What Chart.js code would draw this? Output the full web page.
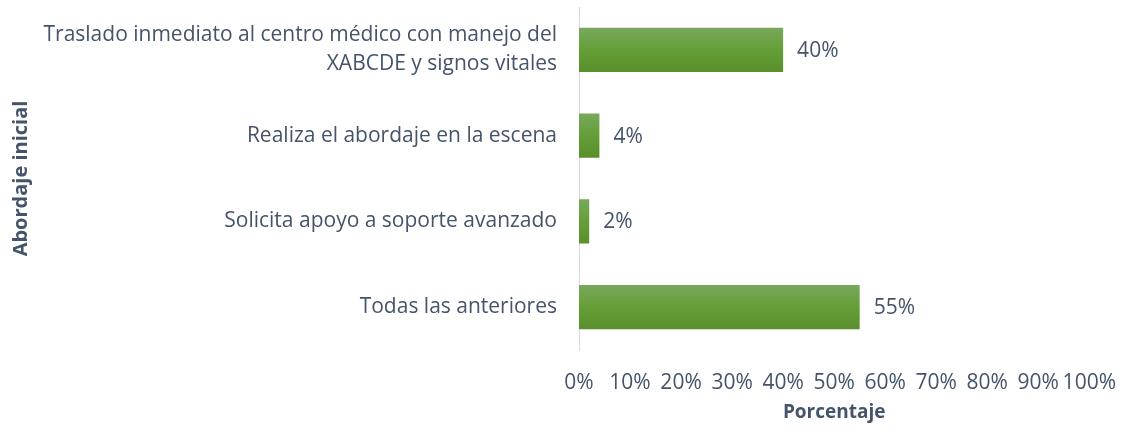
<!DOCTYPE html>
<html>
<head>
<meta charset="utf-8">
<script src="https://cdn.jsdelivr.net/npm/chart.js@4/dist/chart.umd.min.js"></script>
<style>
  html, body { margin: 0; padding: 0; background: #fff; }
  #wrap { width: 1128px; height: 433px; }
</style>
</head>
<body>
<div id="wrap"><canvas id="grafico"></canvas></div>
<script>
const categorias = [
  ['Traslado inmediato al centro médico con manejo del', 'XABCDE y signos vitales'],
  'Realiza el abordaje en la escena',
  'Solicita apoyo a soporte avanzado',
  'Todas las anteriores'
];
const porcentajes = [40, 4, 2, 55];
const etiquetas = ['40%', '4%', '2%', '55%'];

const fuente = "'Open Sans', 'Liberation Sans', sans-serif";
const colorTexto = '#44546A';

// relleno degradado por barra (claro arriba, oscuro abajo)
function degradado(ctx) {
  const chart = ctx.chart;
  const y = chart.scales.y;
  if (!y || ctx.dataIndex == null) return '#68A03A';
  const centro = y.getPixelForValue(ctx.dataIndex);
  if (!isFinite(centro)) return '#68A03A';
  const medio = 22;
  const g = chart.ctx.createLinearGradient(0, centro - medio, 0, centro + medio);
  g.addColorStop(0, '#79A85C');
  g.addColorStop(0.5, '#659E38');
  g.addColorStop(1, '#5A8F2B');
  return g;
}

const etiquetasBarras = {
  id: 'etiquetasBarras',
  afterDatasetsDraw(chart) {
    const c = chart.ctx;
    const meta = chart.getDatasetMeta(0);
    c.save();
    c.font = '21px ' + fuente;
    c.fillStyle = colorTexto;
    c.textBaseline = 'middle';
    meta.data.forEach((bar, i) => {
      c.fillText(etiquetas[i], bar.x + 14, bar.y + 1);
    });
    c.restore();
  }
};

new Chart(document.getElementById('grafico'), {
  type: 'bar',
  data: {
    labels: categorias,
    datasets: [{
      data: porcentajes,
      backgroundColor: degradado,
      barPercentage: 0.72,
      categoryPercentage: 0.72
    }]
  },
  options: {
    indexAxis: 'y',
    responsive: true,
    maintainAspectRatio: false,
    animation: false,
    layout: { padding: { top: 7, right: 34, bottom: 0, left: 0 } },
    plugins: {
      legend: { display: false },
      tooltip: { enabled: false }
    },
    scales: {
      x: {
        min: 0,
        max: 100,
        grid: { display: false },
        border: { display: false },
        ticks: {
          stepSize: 10,
          autoSkip: false,
          padding: 12,
          color: colorTexto,
          font: { family: fuente, size: 21 },
          maxRotation: 0,
          callback: v => v + '%'
        },
        title: {
          display: true,
          text: 'Porcentaje',
          color: colorTexto,
          font: { family: fuente, size: 19, weight: 'bold' },
          padding: { top: 6, bottom: 9 }
        },
        afterFit(s) { s.height = 83; }
      },
      y: {
        grid: { display: false },
        border: { display: true, color: '#D9D9D9', width: 1 },
        ticks: {
          padding: 14,
          color: colorTexto,
          font: { family: fuente, size: 21, lineHeight: 1.38 }
        },
        title: {
          display: true,
          text: 'Abordaje inicial',
          color: colorTexto,
          font: { family: fuente, size: 20, weight: 'bold' },
          padding: { top: 9, bottom: 0 }
        },
        afterFit(s) {
          s.width = 579;
          s.paddingTop = 0;
          s.paddingBottom = 0;
        }
      }
    }
  },
  plugins: [etiquetasBarras]
});
</script>
</body>
</html>
